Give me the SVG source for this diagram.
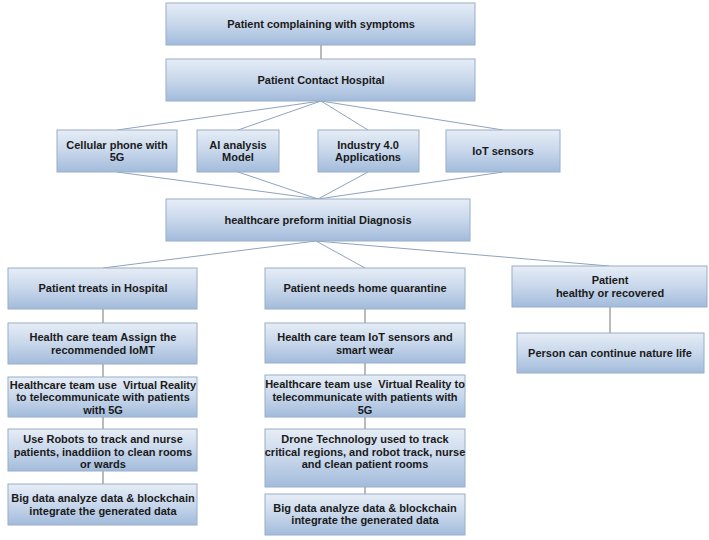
<svg xmlns="http://www.w3.org/2000/svg" width="709" height="540" viewBox="0 0 709 540">
<defs>
<linearGradient id="g" x1="0" y1="0" x2="0" y2="1">
<stop offset="0" stop-color="#e6edf6"/>
<stop offset="0.5" stop-color="#c8d7eb"/>
<stop offset="1" stop-color="#a2bbdb"/>
</linearGradient>
<style>
rect{fill:url(#g);stroke:#9aaec8;stroke-width:1}
text{font-family:"Liberation Sans",Arial,sans-serif;font-size:11px;font-weight:bold;fill:#1a1a1a;text-anchor:middle;white-space:pre}
.c line{stroke:#8fa3bd;stroke-width:1}
.c .v{stroke:#a3a3a3;stroke-width:1.5}
</style>
</defs>
<rect x="0" y="0" width="709" height="540" style="fill:#fff;stroke:none"/>
<g class="c" id="connectors">
<line class="v" x1="321" y1="45" x2="321" y2="59"/>
<line x1="321" y1="101" x2="117" y2="130"/>
<line x1="321" y1="101" x2="238" y2="130"/>
<line x1="321" y1="101" x2="368" y2="130"/>
<line x1="321" y1="101" x2="503" y2="130"/>
<line x1="117" y1="172" x2="318" y2="199"/>
<line x1="238" y1="172" x2="318" y2="199"/>
<line x1="368" y1="172" x2="318" y2="199"/>
<line x1="503" y1="172" x2="318" y2="199"/>
<line x1="316" y1="241" x2="103" y2="268"/>
<line x1="316" y1="241" x2="365" y2="268"/>
<line x1="316" y1="241" x2="609" y2="266"/>
<line class="v" x1="103" y1="309" x2="103" y2="323"/>
<line class="v" x1="103" y1="364" x2="103" y2="377"/>
<line class="v" x1="103" y1="417" x2="103" y2="429"/>
<line class="v" x1="103" y1="471" x2="103" y2="484"/>
<line class="v" x1="365" y1="309" x2="365" y2="323"/>
<line class="v" x1="365" y1="363" x2="365" y2="375"/>
<line class="v" x1="365" y1="417" x2="365" y2="429"/>
<line class="v" x1="365" y1="487" x2="365" y2="494"/>
<line class="v" x1="610" y1="307" x2="610" y2="333"/>
</g>
<g id="n1"><rect x="166" y="3" width="309" height="42"/><text x="321" y="28">Patient complaining with symptoms</text></g>
<g id="n2"><rect x="166" y="59" width="309" height="42"/><text x="321" y="84">Patient Contact Hospital</text></g>
<g id="n3"><rect x="57" y="130" width="120" height="42"/><text x="117" y="149">Cellular phone with</text><text x="117" y="161">5G</text></g>
<g id="n4"><rect x="197" y="130" width="82" height="42"/><text x="238" y="149">AI analysis</text><text x="238" y="161">Model</text></g>
<g id="n5"><rect x="318" y="130" width="101" height="42"/><text x="368" y="149">Industry 4.0</text><text x="368" y="161">Applications</text></g>
<g id="n6"><rect x="446" y="130" width="114" height="42"/><text x="503" y="155">IoT sensors</text></g>
<g id="n7"><rect x="166" y="199" width="304" height="42"/><text x="318" y="224">healthcare preform initial Diagnosis</text></g>
<g id="n8"><rect x="8" y="268" width="189" height="41"/><text x="103" y="292">Patient treats in Hospital</text></g>
<g id="n9"><rect x="265" y="268" width="200" height="41"/><text x="365" y="292">Patient needs home quarantine</text></g>
<g id="n10"><rect x="512" y="266" width="195" height="41"/><text x="610" y="284">Patient</text><text x="610" y="297">healthy or recovered</text></g>
<g id="n11"><rect x="8" y="323" width="189" height="41"/><text x="103" y="341">Health care team Assign the</text><text x="103" y="354">recommended IoMT</text></g>
<g id="n12"><rect x="8" y="377" width="189" height="40"/><text x="103" y="389">Healthcare team use  Virtual Reality</text><text x="103" y="401">to telecommunicate with patients</text><text x="103" y="414">with 5G</text></g>
<g id="n13"><rect x="8" y="429" width="189" height="42"/><text x="103" y="443">Use Robots to track and nurse</text><text x="103" y="456">patients, inaddiion to clean rooms</text><text x="103" y="468">or wards</text></g>
<g id="n14"><rect x="8" y="484" width="189" height="41"/><text x="103" y="502">Big data analyze data &amp; blockchain</text><text x="103" y="515">integrate the generated data</text></g>
<g id="n15"><rect x="265" y="323" width="200" height="40"/><text x="365" y="341">Health care team IoT sensors and</text><text x="365" y="354">smart wear</text></g>
<g id="n16"><rect x="265" y="375" width="200" height="42"/><text x="365" y="388">Healthcare team use  Virtual Reality to</text><text x="365" y="401">telecommunicate with patients with</text><text x="365" y="414">5G</text></g>
<g id="n17"><rect x="265" y="429" width="200" height="58"/><text x="365" y="443">Drone Technology used to track</text><text x="365" y="456">critical regions, and robot track, nurse</text><text x="365" y="468">and clean patient rooms</text></g>
<g id="n18"><rect x="265" y="494" width="200" height="41"/><text x="365" y="512">Big data analyze data &amp; blockchain</text><text x="365" y="524">integrate the generated data</text></g>
<g id="n19"><rect x="517" y="333" width="187" height="40"/><text x="610" y="357">Person can continue nature life</text></g>
</svg>
